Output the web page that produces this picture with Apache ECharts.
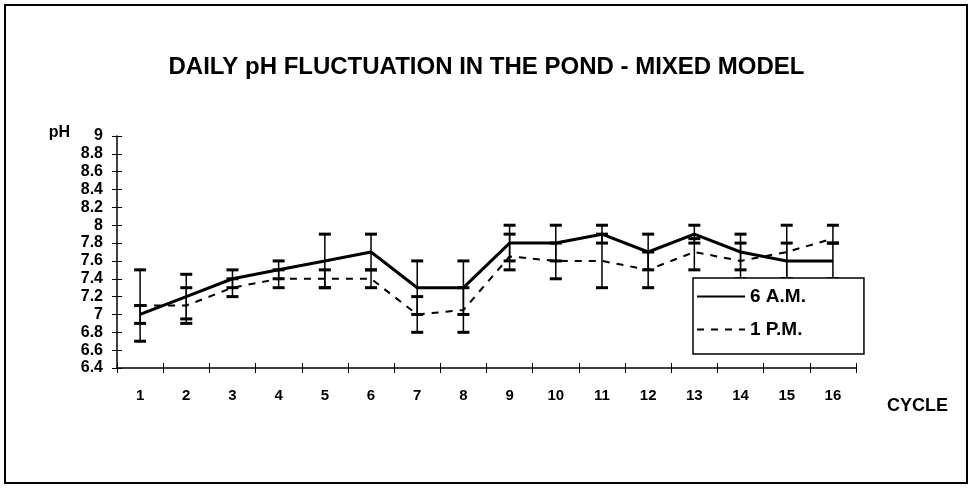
<!DOCTYPE html>
<html>
<head>
<meta charset="utf-8">
<script src="https://cdn.jsdelivr.net/npm/echarts@6/dist/echarts.min.js"></script>
<style>
    html, body { margin: 0; padding: 0; background: #fff; }
    #chart { width: 973px; height: 490px; }
</style>
</head>
<body>
<div id="chart"></div>
<script>
(function () {

    // cycles on the x axis
    var cycles = ['1', '2', '3', '4', '5', '6', '7', '8', '9', '10', '11', '12', '13', '14', '15', '16'];

    // mean pH, 6 A.M. and 1 P.M.
    var am6 = [7.0, 7.2, 7.4, 7.5, 7.6, 7.7, 7.3, 7.3, 7.8, 7.8, 7.9, 7.7, 7.9, 7.7, 7.6, 7.6];
    var pm1 = [7.1, 7.1, 7.3, 7.4, 7.4, 7.4, 7.0, 7.05, 7.65, 7.6, 7.6, 7.5, 7.7, 7.6, 7.7, 7.85];

    // error bar ends
    var am6Low = [6.9, 6.95, 7.3, 7.4, 7.3, 7.5, 7.0, 7.0, 7.6, 7.6, 7.8, 7.5, 7.8, 7.5, 7.4, 7.4];
    var am6High = [7.1, 7.45, 7.5, 7.6, 7.9, 7.9, 7.6, 7.6, 8.0, 8.0, 8.0, 7.9, 8.0, 7.9, 7.8, 7.8];
    var pm1Low = [6.7, 6.9, 7.2, 7.3, 7.3, 7.3, 6.8, 6.8, 7.5, 7.4, 7.3, 7.3, 7.5, 7.4, 7.4, 7.8];
    var pm1High = [7.5, 7.3, 7.4, 7.5, 7.5, 7.5, 7.2, 7.3, 7.9, 7.8, 7.9, 7.7, 7.85, 7.8, 8.0, 8.0];

    var font = '"Liberation Sans", Arial, sans-serif';

    function errorData(low, high) {
        return low.map(function (v, i) { return [i, v, high[i]]; });
    }

    function renderErrorBar(params, api) {
        var lo = api.coord([api.value(0), api.value(1)]);
        var hi = api.coord([api.value(0), api.value(2)]);
        var half = 6;
        var style = { stroke: '#000', lineWidth: 1.5 };
        var capStyle = { stroke: '#000', lineWidth: 3 };
        return {
            type: 'group',
            children: [
                { type: 'line', shape: { x1: lo[0], y1: lo[1], x2: hi[0], y2: hi[1] }, style: style },
                { type: 'line', shape: { x1: lo[0] - half, y1: lo[1], x2: lo[0] + half, y2: lo[1] }, style: capStyle },
                { type: 'line', shape: { x1: hi[0] - half, y1: hi[1], x2: hi[0] + half, y2: hi[1] }, style: capStyle }
            ]
        };
    }

    var axisLabelStyle = { color: '#000', fontFamily: font, fontWeight: 'bold' };

    var chart = echarts.init(document.getElementById('chart'));

    var option = {
        animation: false,
        backgroundColor: '#fff',
        title: {
            text: 'DAILY pH FLUCTUATION IN THE POND - MIXED MODEL',
            left: 'center',
            top: 50,
            textStyle: { color: '#000', fontFamily: font, fontWeight: 'bold', fontSize: 24 }
        },
        graphic: [{
            type: 'rect',
            shape: { x: 5, y: 5, width: 962, height: 478 },
            style: { fill: null, stroke: '#000', lineWidth: 2 },
            silent: true
        }],
        legend: {
            data: ['6 A.M.', '1 P.M.'],
            orient: 'vertical',
            left: 693,
            top: 278,
            itemWidth: 48,
            itemHeight: 14,
            itemGap: 14,
            padding: [9, 58, 15, 3],
            borderColor: '#000',
            borderWidth: 1.5,
            backgroundColor: '#fff',
            itemStyle: { opacity: 0 },
            textStyle: { color: '#000', fontFamily: font, fontWeight: 'bold', fontSize: 19 }
        },
        grid: { left: 117, right: 117, top: 136, bottom: 122 },
        xAxis: [{
            type: 'category',
            data: cycles,
            boundaryGap: true,
            name: 'CYCLE',
            nameLocation: 'end',
            nameGap: 31,
            nameTextStyle: { color: '#000', fontFamily: font, fontWeight: 'bold', fontSize: 18, verticalAlign: 'top', padding: [29, 0, 0, 0] },
            axisLine: { lineStyle: { color: '#000', width: 1.5 } },
            axisTick: { show: true, length: 5, lineStyle: { color: '#000' } },
            axisLabel: Object.assign({ fontSize: 15, margin: 20 }, axisLabelStyle),
            splitLine: { show: false }
        }, {
            type: 'category',
            data: cycles,
            position: 'bottom',
            axisLine: { show: false },
            axisTick: { show: true, inside: true, length: 5, lineStyle: { color: '#000' } },
            axisLabel: { show: false }
        }],
        yAxis: [{
            type: 'value',
            min: 6.4,
            max: 9,
            interval: 0.2,
            name: 'pH',
            nameLocation: 'end',
            nameGap: 3,
            nameTextStyle: { color: '#000', fontFamily: font, fontWeight: 'bold', fontSize: 16, align: 'right', verticalAlign: 'middle', padding: [0, 47, 0, 0] },
            axisLine: { show: true, lineStyle: { color: '#000', width: 1.5 } },
            axisTick: { show: true, length: 5, lineStyle: { color: '#000' } },
            axisLabel: Object.assign({
                fontSize: 16,
                margin: 14,
                formatter: function (v) { return String(+v.toFixed(1)); }
            }, axisLabelStyle),
            splitLine: { show: false }
        }, {
            type: 'value',
            min: 6.4,
            max: 9,
            interval: 0.2,
            position: 'left',
            axisLine: { show: false },
            axisTick: { show: true, inside: true, length: 5, lineStyle: { color: '#000' } },
            axisLabel: { show: false },
            splitLine: { show: false }
        }],
        series: [
            {
                name: '6 A.M.',
                type: 'line',
                data: am6,
                symbol: 'none',
                lineStyle: { color: '#000', width: 3, type: 'solid' },
                itemStyle: { color: '#000' },
                z: 3
            },
            {
                name: '1 P.M.',
                type: 'line',
                data: pm1,
                symbol: 'none',
                lineStyle: { color: '#000', width: 2, type: [7, 7] },
                itemStyle: { color: '#000' },
                z: 3
            },
            {
                name: '6 A.M. range',
                type: 'custom',
                renderItem: renderErrorBar,
                data: errorData(am6Low, am6High),
                encode: { x: 0, y: [1, 2] },
                z: 2
            },
            {
                name: '1 P.M. range',
                type: 'custom',
                renderItem: renderErrorBar,
                data: errorData(pm1Low, pm1High),
                encode: { x: 0, y: [1, 2] },
                z: 2
            }
        ]
    };

    chart.setOption(option);
})();
</script>
</body>
</html>
